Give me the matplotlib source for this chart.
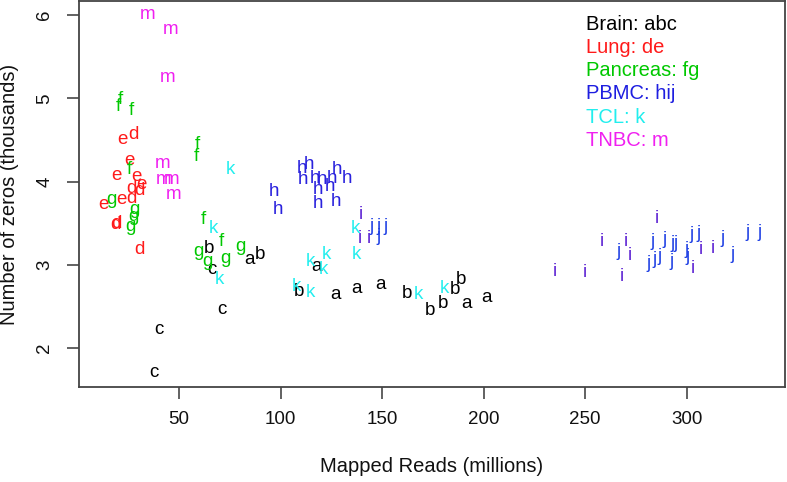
import matplotlib
matplotlib.use("Agg")
import matplotlib.pyplot as plt

plt.rcParams['font.family'] = ['Liberation Sans', 'DejaVu Sans']

# Data: letter code -> (x = mapped reads in millions, y = zeros in thousands)
a_x = [84.5, 117.8, 127.2, 137.5, 149.0, 191.7, 201.5]
a_y = [3.07, 2.98, 2.65, 2.72, 2.77, 2.54, 2.61]
b_x = [64.9, 89.9, 109.1, 162.1, 173.6, 180.2, 185.9, 188.8]
b_y = [3.20, 3.12, 2.68, 2.66, 2.45, 2.54, 2.70, 2.82]
c_x = [66.1, 71.3, 40.1, 37.8]
c_y = [2.95, 2.47, 2.22, 1.71]
d_x = [27.5, 26.4, 30.4, 26.4, 19.3, 18.6, 30.3]
d_y = [4.56, 3.92, 3.89, 3.80, 3.50, 3.48, 3.18]
e_x = [22.1, 25.4, 19.0, 28.8, 31.3, 12.7, 21.8]
e_y = [4.50, 4.25, 4.07, 4.06, 3.97, 3.72, 3.78]
f_x = [20.9, 20.1, 26.4, 59.0, 58.4, 25.4, 62.0, 71.0]
f_y = [4.98, 4.90, 4.85, 4.44, 4.30, 4.14, 3.54, 3.28]
g_x = [16.5, 27.8, 27.5, 25.9, 80.0, 59.5, 64.1, 72.7]
g_y = [3.78, 3.66, 3.58, 3.46, 3.22, 3.16, 3.04, 3.08]
h_x = [110.4, 114.2, 111.2, 117.0, 120.3, 125.2, 127.7, 132.9, 118.6, 124.4,
       96.8, 98.9, 118.6, 127.2]
h_y = [4.16, 4.20, 4.02, 4.04, 4.02, 4.04, 4.14, 4.04, 3.90, 3.94,
       3.88, 3.66, 3.74, 3.76]
i_x = [139.7, 139.2, 143.7, 235.2, 249.7, 258.5, 270.2, 272.2, 268.1, 285.3,
       302.9, 306.8, 312.7]
i_y = [3.60, 3.32, 3.32, 2.92, 2.91, 3.28, 3.28, 3.11, 2.86, 3.56,
       2.96, 3.18, 3.20]
j_x = [144.9, 148.2, 151.5, 148.2, 266.7, 283.1, 281.5, 284.0, 286.9, 289.0,
       293.2, 294.8, 292.7, 300.1, 300.6, 302.6, 305.8, 317.6, 322.5, 330.2, 335.9]
j_y = [3.46, 3.46, 3.46, 3.34, 3.16, 3.28, 3.02, 3.06, 3.10, 3.30,
       3.26, 3.26, 3.04, 3.18, 3.10, 3.36, 3.38, 3.32, 3.12, 3.39, 3.39]
k_x = [75.1, 66.9, 69.9, 136.7, 137.5, 114.5, 122.4, 121.1, 108.0, 114.5, 167.9, 180.5]
k_y = [4.14, 3.44, 2.83, 3.44, 3.12, 3.04, 3.12, 2.94, 2.74, 2.67, 2.64, 2.72]
m_x = [34.4, 46.0, 44.4, 42.0, 42.3, 46.4, 47.2]
m_y = [6.00, 5.82, 5.25, 4.22, 4.02, 4.02, 3.85]

legend_labels = ["Brain: abc", "Lung: de", "Pancreas: fg", "PBMC: hij", "TCL: k", "TNBC: m"]
legend_colors = ["#000000", "#FF1A1A", "#00C800", "#1E1EE0", "#22EEEE", "#F020F0"]

x_ticks = [50, 100, 150, 200, 250, 300]
y_ticks = [2, 3, 4, 5, 6]

series = [
    ("a", a_x, a_y, "#000000"),
    ("b", b_x, b_y, "#000000"),
    ("c", c_x, c_y, "#000000"),
    ("d", d_x, d_y, "#FF1A1A"),
    ("e", e_x, e_y, "#FF1A1A"),
    ("f", f_x, f_y, "#00C800"),
    ("g", g_x, g_y, "#00C800"),
    ("h", h_x, h_y, "#2A22DD"),
    ("i", i_x, i_y, "#5A1ED2"),
    ("j", j_x, j_y, "#1F40E4"),
    ("k", k_x, k_y, "#22EEEE"),
    ("m", m_x, m_y, "#F020F0"),
]

fig = plt.figure(figsize=(7.87, 4.82), dpi=100)
ax = fig.add_axes([79 / 787, 1 - 387 / 482, 706 / 787, 386 / 482])

for letter, xs, ys, col in series:
    for x, y in zip(xs, ys):
        ax.text(x, y, letter, color=col, fontsize=13.5, ha="center", va="center")

ax.set_xlim(0.7, 348.5)
ax.set_ylim(1.534, 6.168)
ax.set_xticks(x_ticks)
ax.set_yticks(y_ticks)
ax.set_xticklabels([str(t) for t in x_ticks])
ax.set_yticklabels([str(t) for t in y_ticks], rotation=90, va="center")

for sp in ax.spines.values():
    sp.set_color("#444444")
    sp.set_linewidth(1.3)
ax.tick_params(axis="both", direction="out", length=8.6, width=1.3, color="#555555",
               labelsize=13.5, labelcolor="#111111")
ax.tick_params(axis="x", pad=9)
ax.tick_params(axis="y", pad=10)

ax.set_xlabel("Mapped Reads (millions)", fontsize=14.5, color="#111111", va="center")
ax.xaxis.set_label_coords(0.5, (387 - 466) / 386)
ax.set_ylabel("Number of zeros (thousands)", fontsize=14.5, color="#111111", va="center")
ax.yaxis.set_label_coords((9 - 79) / 706, 0.5)

for idx, (lab, col) in enumerate(zip(legend_labels, legend_colors)):
    ax.text((586 - 79) / 706, 1 - (23 + idx * 23.3) / 386, lab, color=col,
            fontsize=14.5, ha="left", va="center", transform=ax.transAxes)

fig.savefig("out.png", dpi=100)
